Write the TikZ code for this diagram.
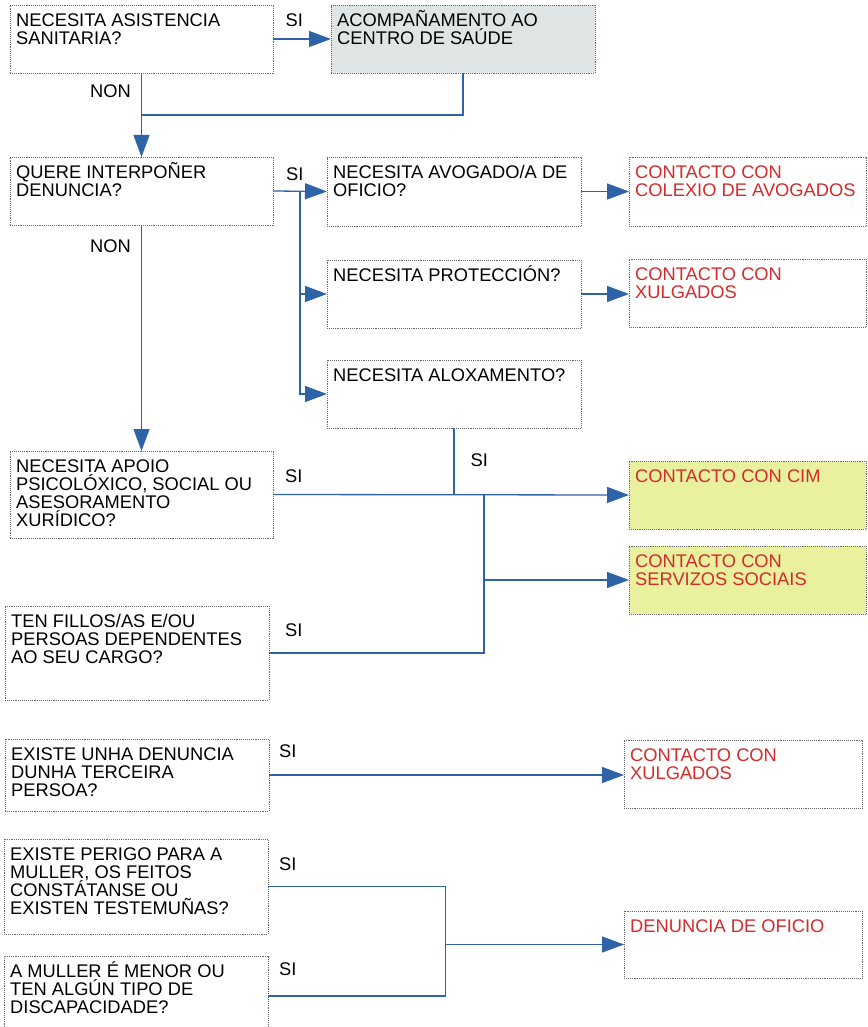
\documentclass[tikz,border=0pt]{standalone}
\usepackage{fontspec}
\setmainfont{Liberation Sans}
\usetikzlibrary{arrows.meta}
\definecolor{lnblue}{HTML}{2F63A8}
\definecolor{rd}{HTML}{D42A2A}
\definecolor{grayfill}{HTML}{DFE5E4}
\definecolor{greenfill}{HTML}{E9F19F}
\definecolor{bordergray}{HTML}{6A6A6A}
\lineskiplimit=-50pt
\tikzset{
  box/.style={draw=bordergray, densely dotted, line width=0.9pt, anchor=north west, inner sep=0pt, outer sep=0pt},
  txt/.style={anchor=north west, inner sep=0pt, align=left, font=\fontsize{18.3}{18}\selectfont},
  lbl/.style={anchor=base west, inner sep=0pt, font=\fontsize{18.3}{18}\selectfont},
  line/.style={draw=lnblue, line width=1.3pt},
  arr/.style={line, -{Triangle[length=22pt,width=16pt]}},
}
\newcommand{\bxt}[3]{% name, text options, text
  \node[txt,#2] (#1t) at ([shift={(6,4)}]#1.north west) {\rule{0pt}{17pt}#3};}
\begin{document}
\begin{tikzpicture}[x=1pt,y=-1pt]
\useasboundingbox (0,0) rectangle (867,1027);
% boxes
\node[box, minimum width=263, minimum height=68] (q1) at (10,5) {};
\node[box, fill=grayfill, minimum width=264, minimum height=68] (acomp) at (331,5) {};
\node[box, minimum width=263, minimum height=68] (q2) at (10,157) {};
\node[box, minimum width=254, minimum height=69] (avog) at (327,157) {};
\node[box, minimum width=254, minimum height=68] (prot) at (327,260) {};
\node[box, minimum width=254, minimum height=68] (alox) at (327,360) {};
\node[box, minimum width=237, minimum height=69] (colex) at (629,157) {};
\node[box, minimum width=237, minimum height=68] (xulg1) at (629,259) {};
\node[box, minimum width=263, minimum height=87] (q3) at (10,451) {};
\node[box, fill=greenfill, minimum width=237, minimum height=68] (cim) at (629,461) {};
\node[box, fill=greenfill, minimum width=237, minimum height=68] (serv) at (629,546) {};
\node[box, minimum width=264, minimum height=94] (q4) at (5,606) {};
\node[box, minimum width=264, minimum height=72] (q5) at (5,739) {};
\node[box, minimum width=238, minimum height=68] (xulg2) at (624,740) {};
\node[box, minimum width=264, minimum height=95] (q6) at (4,839) {};
\node[box, minimum width=264, minimum height=80] (q7) at (4,956) {};
\node[box, minimum width=238, minimum height=67] (ofic) at (624,911) {};
% texts
\bxt{q1}{}{NECESITA ASISTENCIA\\SANITARIA?}
\bxt{acomp}{}{ACOMPAÑAMENTO AO\\CENTRO DE SAÚDE}
\bxt{q2}{}{QUERE INTERPOÑER\\DENUNCIA?}
\bxt{avog}{}{NECESITA AVOGADO/A DE\\OFICIO?}
\bxt{prot}{}{NECESITA PROTECCIÓN?}
\bxt{alox}{}{NECESITA ALOXAMENTO?}
\bxt{colex}{text=rd}{CONTACTO CON\\COLEXIO DE AVOGADOS}
\bxt{xulg1}{text=rd}{CONTACTO CON\\XULGADOS}
\bxt{q3}{}{NECESITA APOIO\\PSICOLÓXICO, SOCIAL OU\\ASESORAMENTO\\XURÍDICO?}
\bxt{cim}{text=rd}{CONTACTO CON CIM}
\bxt{serv}{text=rd}{CONTACTO CON\\SERVIZOS SOCIAIS}
\bxt{q4}{}{TEN FILLOS/AS E/OU\\PERSOAS DEPENDENTES\\AO SEU CARGO?}
\bxt{q5}{}{EXISTE UNHA DENUNCIA\\DUNHA TERCEIRA\\PERSOA?}
\bxt{xulg2}{text=rd}{CONTACTO CON\\XULGADOS}
\bxt{q6}{}{EXISTE PERIGO PARA A\\MULLER, OS FEITOS\\CONSTÁTANSE OU\\EXISTEN TESTEMUÑAS?}
\bxt{q7}{}{A MULLER É MENOR OU\\TEN ALGÚN TIPO DE\\DISCAPACIDADE?}
\bxt{ofic}{text=rd}{DENUNCIA DE OFICIO}
% labels
\node[lbl] (l1) at (285.5,26.5) {SI};
\node[lbl] (l2) at (90,98) {NON};
\node[lbl] (l3) at (286,180.5) {SI};
\node[lbl] (l4) at (90,252) {NON};
\node[lbl] (l5) at (285,482) {SI};
\node[lbl] (l6) at (470.5,466) {SI};
\node[lbl] (l7) at (285,636) {SI};
\node[lbl] (l8) at (279,757.5) {SI};
\node[lbl] (l9) at (279,870) {SI};
\node[lbl] (l10) at (279,975) {SI};
% junction coordinates
\coordinate (j1) at (q1.south |- 0,115);
\coordinate (b1) at (300,0 |- q2.east);
\coordinate (j2) at (484,0 |- q3.east);
\coordinate (j3) at (484,0 |- q4.east);
\coordinate (j4) at (445.5,0 |- ofic.west);
% connectors
\draw[arr] (q1.east) -- (acomp.west);
\draw[arr] (q1.south) -- (q2.north);
\draw[line] (acomp.south) |- (j1);
\draw[arr] (q2.east) -- (avog.west);
\draw[arr] (b1) |- (prot.west);
\draw[arr] (b1) |- (alox.west);
\draw[arr] (avog.east) -- (colex.west);
\draw[arr] (prot.east) -- (xulg1.west |- prot.east);
\draw[arr] (q2.south) -- (q3.north);
\draw[arr] (q3.east) -- (cim.west);
\draw[line] (alox.south) -- (alox.south |- q3.east);
\draw[line] (q4.east) -- (j3) -- (j2);
\draw[arr] (j2) |- (serv.west);
\draw[arr] (q5.east) -- (xulg2.west |- q5.east);
\draw[line] (q6.east) -| (j4);
\draw[line] (q7.east) -| (j4);
\draw[arr] (j4) -- (ofic.west);
\end{tikzpicture}
\end{document}
